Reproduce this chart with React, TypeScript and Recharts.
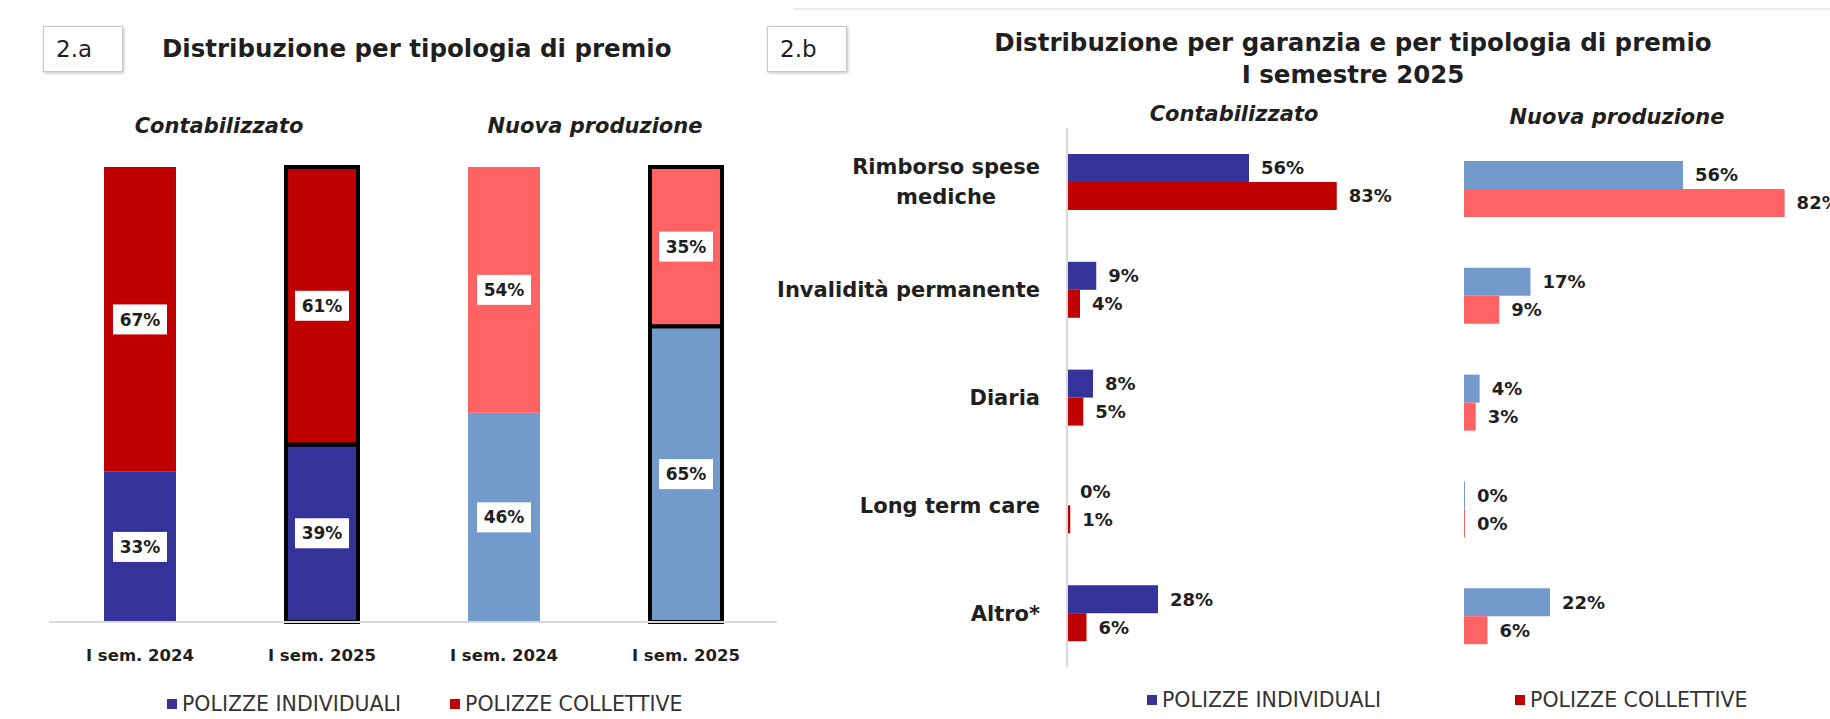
import React from 'react';
import { BarChart, Bar, XAxis, YAxis, Cell, LabelList } from 'recharts';

// 2.a - distribuzione per tipologia di premio
const periodi = ['I sem. 2024', 'I sem. 2025', 'I sem. 2024', 'I sem. 2025'];
const individualiPremio = [33, 39, 46, 65];
const collettivePremio = [67, 61, 54, 35];

// 2.b - distribuzione per garanzia, I semestre 2025
const garanzie = ['Rimborso spese mediche', 'Invalidità permanente', 'Diaria', 'Long term care', 'Altro*'];
const individualiContab = [56, 9, 8, 0, 28];
const collettiveContab = [83, 4, 5, 1, 6];
const individualiNuova = [56, 17, 4, 0, 22];
const collettiveNuova = [82, 9, 3, 0, 6];

const BLU = '#333399';
const ROSSO = '#C00000';
const AZZURRO = '#729ACA';
const SALMONE = '#FF6363';
const FONT = "'DejaVu Sans', sans-serif";
const TESTO = '#1f1f1f';

const coloriIndividuali = [BLU, BLU, AZZURRO, AZZURRO];
const coloriCollettive = [ROSSO, ROSSO, SALMONE, SALMONE];
const bordati = [false, true, false, true];

const premioData = periodi.map((p, i) => ({
  periodo: p,
  individuali: individualiPremio[i],
  collettive: collettivePremio[i],
}));
const contabData = garanzie.map((g, i) => ({
  garanzia: g,
  individuali: individualiContab[i],
  collettive: collettiveContab[i],
}));
const nuovaData = garanzie.map((g, i) => ({
  garanzia: g,
  individuali: individualiNuova[i],
  collettive: collettiveNuova[i],
}));

let ctx: CanvasRenderingContext2D | null = null;
const misura = (t: string, font: string) => {
  if (!ctx) ctx = document.createElement('canvas').getContext('2d');
  if (!ctx) return t.length * 12;
  ctx.font = font;
  return ctx.measureText(t).width;
};

const BoxLabel = (props: any) => {
  const { x, y, width, height, value } = props;
  const cx = x + width / 2;
  const cy = y + height / 2;
  return (
    <g>
      <rect x={cx - 27} y={cy - 15} width={54} height={30} fill="#fff" />
      <text x={cx} y={cy} dy="0.36em" textAnchor="middle" fontFamily={FONT} fontWeight="bold" fontSize={17} fill={TESTO}>
        {value}%
      </text>
    </g>
  );
};

const PeriodoTick = (props: any) => {
  const { x, y, payload } = props;
  return (
    <text x={x} y={y + 33} dy="0.36em" textAnchor="middle" fontFamily={FONT} fontWeight="bold" fontSize={16.5} fill={TESTO}>
      {payload.value}
    </text>
  );
};

const GaranziaTick = (props: any) => {
  const { x, y, payload } = props;
  const font = `bold 21px ${FONT}`;
  const parole = String(payload.value).split(' ');
  const righe: string[] = [];
  let corrente = '';
  parole.forEach((p) => {
    const prova = corrente ? corrente + ' ' + p : p;
    if (corrente && misura(prova, font) > 280) {
      righe.push(corrente);
      corrente = p;
    } else corrente = prova;
  });
  righe.push(corrente);
  if (righe.length === 1) {
    return (
      <text x={x} y={y} dy="0.36em" textAnchor="end" fontFamily={FONT} fontWeight="bold" fontSize={21} fill={TESTO}>
        {righe[0]}
      </text>
    );
  }
  const maxW = Math.max(...righe.map((r) => misura(r, font)));
  return (
    <g>
      {righe.map((r, i) => (
        <text key={i} x={x - maxW / 2} y={y + (i - (righe.length - 1) / 2) * 30} dy="0.36em" textAnchor="middle" fontFamily={FONT} fontWeight="bold" fontSize={21} fill={TESTO}>
          {r}
        </text>
      ))}
    </g>
  );
};

const pct = (v: any) => `${v}%`;

const labelStyle = {
  fill: TESTO,
  fontFamily: FONT,
  fontWeight: 'bold' as const,
  fontSize: 18,
};

const Testo = ({ left, top, children, style }: any) => (
  <div style={{ position: 'absolute', left, top, fontFamily: FONT, color: TESTO, whiteSpace: 'nowrap', ...style }}>
    {children}
  </div>
);

const Riquadro = ({ left, top, children }: any) => (
  <div
    style={{
      position: 'absolute',
      left,
      top,
      width: 80,
      height: 46,
      border: '1px solid #c8c8c8',
      boxShadow: '1px 1px 3px rgba(0,0,0,0.25)',
      boxSizing: 'border-box',
      fontFamily: FONT,
      fontSize: 23,
      lineHeight: '44px',
      paddingLeft: 12,
      color: TESTO,
      background: '#fff',
    }}
  >
    {children}
  </div>
);

const Legenda = ({ left, top, gap }: any) => (
  <div style={{ position: 'absolute', left, top: top - 14, height: 28, display: 'flex', alignItems: 'center', fontFamily: FONT, fontSize: 20.5, color: '#333', whiteSpace: 'nowrap' }}>
    <span style={{ width: 10, height: 10, background: BLU, display: 'inline-block', marginRight: 5 }} />
    <span style={{ marginRight: gap }}>POLIZZE INDIVIDUALI</span>
    <span style={{ width: 10, height: 10, background: ROSSO, display: 'inline-block', marginRight: 5 }} />
    <span>POLIZZE COLLETTIVE</span>
  </div>
);

const titolo = { fontWeight: 'bold', fontSize: 24.5 };
const intestazione = { fontWeight: 'bold', fontStyle: 'italic', fontSize: 21, transform: 'translate(-50%, -50%)' };

export default function App() {
  return (
    <div style={{ position: 'absolute', left: 0, top: 0, width: 1830, height: 719, overflow: 'hidden', background: '#fff' }}>
      {/* pannello 2.a */}
      <Riquadro left={43} top={26}>2.a</Riquadro>
      <Testo left={162} top={34} style={{ ...titolo, lineHeight: '30px' }}>
        Distribuzione per tipologia di premio
      </Testo>
      <Testo left={219} top={126} style={intestazione}>Contabilizzato</Testo>
      <Testo left={595} top={126} style={intestazione}>Nuova produzione</Testo>

      <div style={{ position: 'absolute', left: 0, top: 0 }}>
        <BarChart width={800} height={719} data={premioData} margin={{ top: 167, right: 23, bottom: 67, left: 49 }}>
          <XAxis dataKey="periodo" height={30} interval={0} axisLine={{ stroke: '#d9d9d9', strokeWidth: 2 }} tickLine={false} tickSize={0} tickMargin={0} tick={<PeriodoTick />} />
          <YAxis type="number" domain={[0, 100]} hide />
          <Bar dataKey="individuali" stackId="a" barSize={72} isAnimationActive={false}>
            {premioData.map((_, i) => (
              <Cell key={i} fill={coloriIndividuali[i]} stroke={bordati[i] ? '#000' : 'none'} strokeWidth={bordati[i] ? 4 : 0} />
            ))}
            <LabelList dataKey="individuali" content={<BoxLabel />} />
          </Bar>
          <Bar dataKey="collettive" stackId="a" barSize={72} isAnimationActive={false}>
            {premioData.map((_, i) => (
              <Cell key={i} fill={coloriCollettive[i]} stroke={bordati[i] ? '#000' : 'none'} strokeWidth={bordati[i] ? 4 : 0} />
            ))}
            <LabelList dataKey="collettive" content={<BoxLabel />} />
          </Bar>
        </BarChart>
      </div>
      <Legenda left={167} top={704} gap={49} />

      {/* pannello 2.b */}
      <div style={{ position: 'absolute', left: 794, top: 8, width: 1036, height: 2, background: '#ececec' }} />
      <Riquadro left={767} top={26}>2.b</Riquadro>
      <Testo left={953} top={27} style={{ ...titolo, width: 800, textAlign: 'center', lineHeight: '32px' }}>
        Distribuzione per garanzia e per tipologia di premio
        <br />I semestre 2025
      </Testo>
      <Testo left={1234} top={114} style={intestazione}>Contabilizzato</Testo>
      <Testo left={1617} top={117} style={intestazione}>Nuova produzione</Testo>

      <div style={{ position: 'absolute', left: 760, top: 0 }}>
        <BarChart layout="vertical" width={692} height={719} data={contabData} barGap={0} margin={{ top: 128, right: 60, bottom: 52, left: 0 }}>
          <XAxis type="number" domain={[0, 100]} hide />
          <YAxis type="category" dataKey="garanzia" width={307} interval={0} axisLine={{ stroke: '#d9d9d9', strokeWidth: 2 }} tickLine={false} tickSize={0} tickMargin={27} tick={<GaranziaTick />} />
          <Bar dataKey="individuali" fill={BLU} barSize={28} minPointSize={1} isAnimationActive={false}>
            <LabelList dataKey="individuali" position="right" offset={12} formatter={pct} style={labelStyle} />
          </Bar>
          <Bar dataKey="collettive" fill={ROSSO} barSize={28} minPointSize={1} isAnimationActive={false}>
            <LabelList dataKey="collettive" position="right" offset={12} formatter={pct} style={labelStyle} />
          </Bar>
        </BarChart>
      </div>

      <div style={{ position: 'absolute', left: 1440, top: 0 }}>
        <BarChart layout="vertical" width={430} height={719} data={nuovaData} barGap={0} margin={{ top: 136, right: 15, bottom: 49, left: 24 }}>
          <XAxis type="number" domain={[0, 100]} hide />
          <YAxis type="category" dataKey="garanzia" hide />
          <Bar dataKey="individuali" fill={AZZURRO} barSize={28} minPointSize={1} isAnimationActive={false}>
            <LabelList dataKey="individuali" position="right" offset={12} formatter={pct} style={labelStyle} />
          </Bar>
          <Bar dataKey="collettive" fill={SALMONE} barSize={28} minPointSize={1} isAnimationActive={false}>
            <LabelList dataKey="collettive" position="right" offset={12} formatter={pct} style={labelStyle} />
          </Bar>
        </BarChart>
      </div>
      <Legenda left={1147} top={700} gap={134} />
    </div>
  );
}
